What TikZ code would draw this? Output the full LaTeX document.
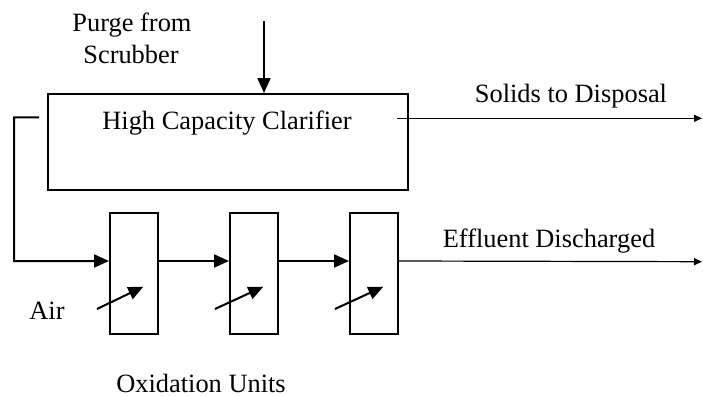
\documentclass[tikz,border=0pt]{standalone}
\usepackage{fontspec}
\setmainfont{Liberation Serif}
\usetikzlibrary{arrows.meta}
\begin{document}
\begin{tikzpicture}[x=0.5pt,y=-0.5pt,
  box/.style={draw,line width=1pt,rectangle,inner sep=0pt},
  arr/.style={line width=1pt,-{Triangle[length=7.5pt,width=6.5pt]}},
  thinarr/.style={line width=0.6pt,-{Triangle[length=4pt,width=3.5pt]}},
  lbl/.style={anchor=base,inner sep=0pt,font=\fontsize{13.2}{15}\selectfont}]
\useasboundingbox (0,0) rectangle (703,396);
% clarifier
\node[box,minimum width=180pt,minimum height=47.75pt] (clar) at (228,141.75) {};
\node[lbl] (clartext) at (227,129.3) {High Capacity Clarifier};
% oxidation units
\node[box,minimum width=24pt,minimum height=60.35pt] (u1) at (134,273.7) {};
\node[box,minimum width=24pt,minimum height=60.35pt] (u2) at (254,273.7) {};
\node[box,minimum width=24pt,minimum height=60.35pt] (u3) at (374,273.7) {};
% labels
\node[lbl] (purge1) at (132,32) {Purge from};
\node[lbl] (purge2) at (131,63) {Scrubber};
\node[lbl] (solids) at (571,103) {Solids to Disposal};
\node[lbl] (effl) at (549,247) {Effluent Discharged};
\node[lbl] (air) at (47,319) {Air};
\node[lbl] (oxid) at (201,392) {Oxidation Units};
% coordinates
\coordinate (ptop) at (264,21);
\coordinate (rstart) at (39,117.3);
\coordinate (rcorner) at (14,261);
\coordinate (sstart) at (397,118.3);
\coordinate (send) at (702,118.3);
\coordinate (eend) at (702,261.7);
\coordinate (a1) at (97,309);
\coordinate (a2) at (215,309);
\coordinate (a3) at (335,309);
\coordinate (t1) at (143.3,286.7);
\coordinate (t2) at (263.3,286.7);
\coordinate (t3) at (383.3,286.7);
% connectors
\draw[arr] (ptop) -- (ptop |- clar.north);
\draw[arr] (rstart) -| (rcorner) -- ([yshift=6.35pt]u1.west);
\draw[arr] ([yshift=6.35pt]u1.east) -- ([yshift=6.35pt]u2.west);
\draw[arr] ([yshift=6.35pt]u2.east) -- ([yshift=6.35pt]u3.west);
\draw[thinarr] (sstart) -- (send);
\draw[thinarr] ([yshift=6.35pt]u3.east) -- (eend);
\draw[arr] (a1) -- (t1);
\draw[arr] (a2) -- (t2);
\draw[arr] (a3) -- (t3);
\end{tikzpicture}
\end{document}
